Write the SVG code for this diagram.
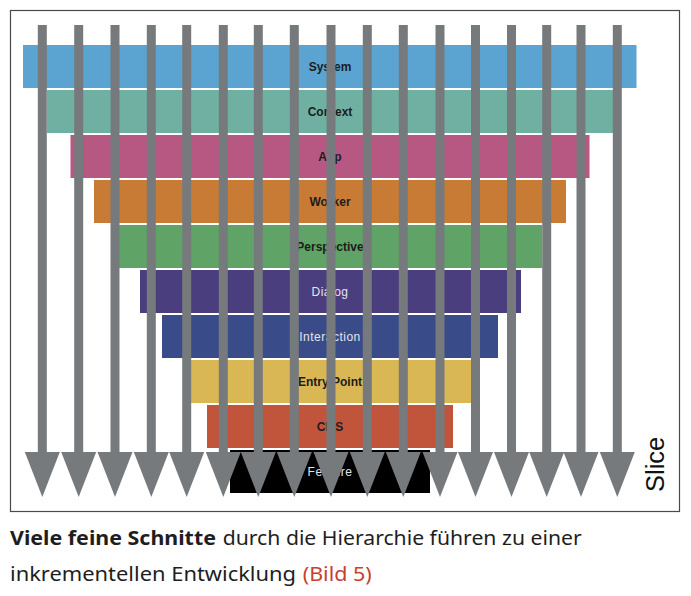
<svg xmlns="http://www.w3.org/2000/svg" width="691" height="596" viewBox="0 0 691 596">
<style>
.lbl{font-family:"Liberation Sans",Arial,sans-serif;font-size:12px;font-weight:bold;fill:#1c1c1c;text-anchor:middle}
.lt{font-family:"Liberation Sans",Arial,sans-serif;font-size:12px;font-weight:normal;fill:#e4e4ec;text-anchor:middle;letter-spacing:0.5px}
.shaft{fill:#777a7c}
.head{fill:#777a7c}
.cap{font-family:"Noto Sans","Open Sans",sans-serif;font-size:19.5px;fill:#1e1e1e}
</style>
<rect x="0" y="0" width="691" height="596" fill="#ffffff"/>
<rect x="10.5" y="10.5" width="669" height="501" fill="#ffffff" stroke="#4a4a4a" stroke-width="1.2"/>
<g id="system"><rect x="23" y="45" width="613.5" height="43" fill="#5ba3d0"/><text class="lbl" x="330" y="71">System</text></g>
<g id="context"><rect x="47" y="90" width="566" height="43" fill="#70b0a3"/><text class="lbl" x="330" y="116">Context</text></g>
<g id="app"><rect x="70.5" y="135" width="519" height="43" fill="#b65882"/><text class="lbl" x="330" y="161">App</text></g>
<g id="worker"><rect x="94" y="180" width="472" height="43" fill="#c87b35"/><text class="lbl" x="330" y="206">Worker</text></g>
<g id="perspective"><rect x="118" y="225" width="424" height="43" fill="#5fa466"/><text class="lbl" x="330" y="251">Perspective</text></g>
<g id="dialog"><rect x="140" y="270" width="381" height="43" fill="#4a3e7e"/><text class="lt" x="330" y="296">Dialog</text></g>
<g id="interaction"><rect x="162" y="315" width="336" height="43" fill="#3a4b8a"/><text class="lt" x="330" y="341">Interaction</text></g>
<g id="entrypoint"><rect x="185" y="360" width="287" height="43" fill="#d9b755"/><text class="lbl" x="330" y="386">Entry Point</text></g>
<g id="cms"><rect x="207" y="405" width="246" height="43" fill="#c0553c"/><text class="lbl" x="330" y="431">CMS</text></g>
<g id="feature"><rect x="230" y="450" width="200" height="43" fill="#000000"/><text class="lt" x="330" y="476">Feature</text></g>
<g id="connectors">
<rect class="shaft" x="37.8" y="25" width="9" height="428"/><polygon class="head" points="24.8,452 59.8,452 42.3,497"/>
<rect class="shaft" x="74.2" y="25" width="9" height="428"/><polygon class="head" points="61.2,452 96.2,452 78.7,497"/>
<rect class="shaft" x="110.5" y="25" width="9" height="428"/><polygon class="head" points="97.5,452 132.5,452 115,497"/>
<rect class="shaft" x="146.8" y="25" width="9" height="428"/><polygon class="head" points="133.8,452 168.8,452 151.3,497"/>
<rect class="shaft" x="182.2" y="25" width="9" height="428"/><polygon class="head" points="169.2,452 204.2,452 186.7,497"/>
<rect class="shaft" x="218.8" y="25" width="9" height="428"/><polygon class="head" points="205.8,452 240.8,452 223.3,497"/>
<rect class="shaft" x="253.8" y="25" width="9" height="428"/><polygon class="head" points="240.8,452 275.8,452 258.3,497"/>
<rect class="shaft" x="289.8" y="25" width="9" height="428"/><polygon class="head" points="276.8,452 311.8,452 294.3,497"/>
<rect class="shaft" x="326.5" y="25" width="9" height="428"/><polygon class="head" points="313.5,452 348.5,452 331,497"/>
<rect class="shaft" x="362.8" y="25" width="9" height="428"/><polygon class="head" points="349.8,452 384.8,452 367.3,497"/>
<rect class="shaft" x="398.8" y="25" width="9" height="428"/><polygon class="head" points="385.8,452 420.8,452 403.3,497"/>
<rect class="shaft" x="435.5" y="25" width="9" height="428"/><polygon class="head" points="422.5,452 457.5,452 440,497"/>
<rect class="shaft" x="471" y="25" width="9" height="428"/><polygon class="head" points="458,452 493,452 475.5,497"/>
<rect class="shaft" x="507" y="25" width="9" height="428"/><polygon class="head" points="494,452 529,452 511.5,497"/>
<rect class="shaft" x="542.2" y="25" width="9" height="428"/><polygon class="head" points="529.2,452 564.2,452 546.7,497"/>
<rect class="shaft" x="576.5" y="25" width="9" height="428"/><polygon class="head" points="563.5,452 598.5,452 581,497"/>
<rect class="shaft" x="612.8" y="25" width="9" height="428"/><polygon class="head" points="599.8,452 634.8,452 617.3,497"/>
</g>
<text transform="translate(664,492) rotate(-90)" x="0" y="0" font-family="Liberation Sans, Arial, sans-serif" font-size="25.5" fill="#111111">Slice</text>
<text class="cap" x="10" y="545" font-weight="bold" textLength="206" lengthAdjust="spacingAndGlyphs">Viele feine Schnitte</text>
<text class="cap" x="222.7" y="545" textLength="359" lengthAdjust="spacingAndGlyphs">durch die Hierarchie führen zu einer</text>
<text class="cap" x="10" y="581" textLength="286" lengthAdjust="spacingAndGlyphs">inkrementellen Entwicklung</text>
<text class="cap" x="302.7" y="581" fill="#c8402f" style="fill:#c8402f" textLength="69" lengthAdjust="spacingAndGlyphs">(Bild 5)</text>
</svg>
